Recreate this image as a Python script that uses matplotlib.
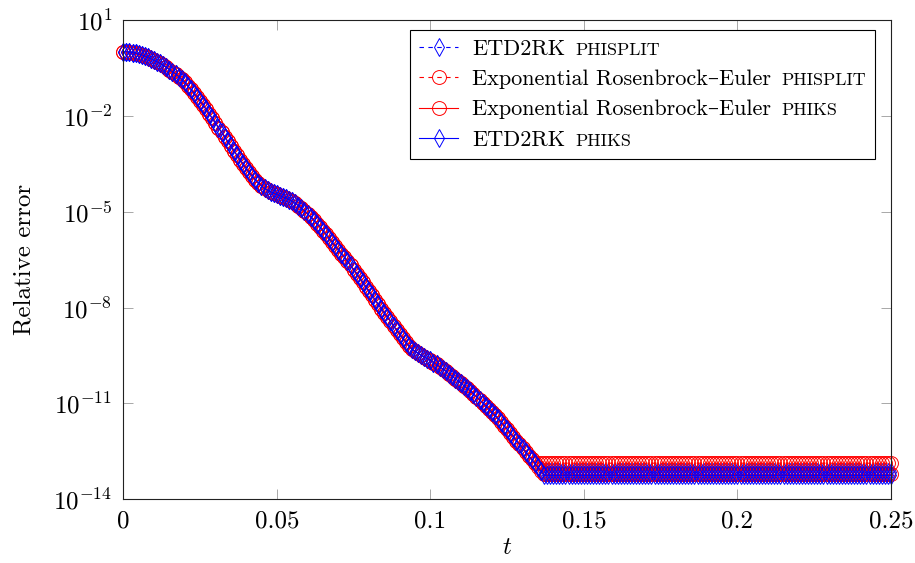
import numpy as np
import matplotlib
matplotlib.use("Agg")
import matplotlib.pyplot as plt
from matplotlib.offsetbox import TextArea, HPacker
from matplotlib.ticker import NullLocator

plt.rcParams['font.family'] = ['cmr10', 'DejaVu Serif']
plt.rcParams['mathtext.fontset'] = 'cm'
plt.rcParams['axes.formatter.use_mathtext'] = True

# ---------------- data (log10 of relative error) ----------------
t = np.round(np.arange(0, 251) * 0.001, 3)

decay_log10 = [
    0.01, 0.005, -0.005, -0.02, -0.04, -0.065, -0.095, -0.13, -0.17, -0.215,
    -0.26, -0.31, -0.36, -0.42, -0.48, -0.55, -0.62, -0.69, -0.77, -0.86,
    -0.95, -1.06, -1.17, -1.29, -1.41, -1.53, -1.66, -1.80, -1.94, -2.08,
    -2.22, -2.37, -2.51, -2.65, -2.80, -2.94, -3.09, -3.23, -3.37, -3.51,
    -3.64, -3.77, -3.89, -4.00, -4.10, -4.19, -4.27, -4.33, -4.38, -4.42,
    -4.46, -4.50, -4.54, -4.57, -4.62, -4.68, -4.74, -4.81, -4.89, -4.97,
    -5.07, -5.16, -5.26, -5.37, -5.48, -5.59, -5.71, -5.83, -5.95, -6.07,
    -6.19, -6.31, -6.43, -6.55, -6.68, -6.81, -6.94, -7.08, -7.21, -7.35,
    -7.49, -7.62, -7.76, -7.90, -8.03, -8.17, -8.30, -8.43, -8.57, -8.70,
    -8.83, -8.96, -9.08, -9.20, -9.30, -9.37, -9.43, -9.49, -9.54, -9.60,
    -9.65, -9.72, -9.78, -9.85, -9.92, -9.99, -10.07, -10.14, -10.22, -10.29,
    -10.37, -10.45, -10.53, -10.61, -10.70, -10.79, -10.88, -10.98, -11.07, -11.17,
    -11.27, -11.37, -11.47, -11.58, -11.70, -11.81, -11.93, -12.04, -12.16, -12.27,
    -12.39, -12.51, -12.63, -12.75,
]

etd2rk_phisplit_tail = [-12.87, -13.00, -13.12] + [-13.15] * 114
er_phisplit_tail = [-12.87] * 117
er_phiks_tail = [-12.87, -13.00, -13.12] + [-13.22] * 114
etd2rk_phiks_tail = [-12.87, -13.00, -13.12] + [-13.25] * 114

etd2rk_phisplit = 10.0 ** np.array(decay_log10 + etd2rk_phisplit_tail)
er_phisplit = 10.0 ** np.array(decay_log10 + er_phisplit_tail)
er_phiks = 10.0 ** np.array(decay_log10 + er_phiks_tail)
etd2rk_phiks = 10.0 ** np.array(decay_log10 + etd2rk_phiks_tail)

main_labels = ["ETD2RK", "Exponential Rosenbrock\u2013Euler",
               "Exponential Rosenbrock\u2013Euler", "ETD2RK"]
sc_labels = ["PHISPLIT", "PHISPLIT", "PHIKS", "PHIKS"]

x_ticks = [0, 0.05, 0.1, 0.15, 0.2, 0.25]
x_tick_labels = ["0", "0.05", "0.1", "0.15", "0.2", "0.25"]
y_tick_exps = [1, -2, -5, -8, -11, -14]

# ---------------- figure ----------------
W, H = 915, 563
fig = plt.figure(figsize=(W / 100, H / 100), dpi=100)
L, R, T, B = 123.3, 891.0, 20.0, 499.3
ax = fig.add_axes([L / W, 1 - B / H, (R - L) / W, (B - T) / H])

blue = '#0000ff'
red = '#ff0000'
dash = (0, (4, 4))

series = [
    (etd2rk_phisplit, blue, dash, 'd', 9),
    (er_phisplit, red, dash, 'o', 10),
    (er_phiks, red, '-', 'o', 10),
    (etd2rk_phiks, blue, '-', 'd', 9),
]
for (y, c, ls, m, ms), lab in zip(series, main_labels):
    ax.plot(t, y, color=c, linestyle=ls, linewidth=0.8, marker=m,
            markersize=ms, markerfacecolor='none', markeredgecolor=c,
            markeredgewidth=0.7, clip_on=False, label=lab)

ax.set_yscale('log')
ax.set_xlim(0, 0.25)
ax.set_ylim(1e-14, 1e1)

ax.set_xticks(x_ticks, x_tick_labels)
ax.set_yticks([10.0 ** e for e in y_tick_exps],
              [r"$10^{%d}$" % e for e in y_tick_exps])
ax.yaxis.set_minor_locator(NullLocator())
ax.xaxis.set_minor_locator(NullLocator())

for s in ax.spines.values():
    s.set_color('#222222')
    s.set_linewidth(0.8)

ax.tick_params(which='major', direction='in', length=7, width=0.7,
               color='#a8a8a8', top=True, right=True, labelsize=18, pad=8,
               labelcolor='black')

ax.set_xlabel(r"$t$", fontsize=18, labelpad=3)
ax.set_ylabel("Relative error", fontsize=18, labelpad=13)

leg = ax.legend(loc='upper right', bbox_to_anchor=(1 - 16 / (R - L), 1 - 10 / (B - T)),
                borderaxespad=0, fontsize=16, frameon=True, fancybox=False,
                edgecolor='black', framealpha=1, handlelength=1.76,
                handletextpad=0.62, borderpad=0.42, labelspacing=0.48,
                numpoints=1)
leg.get_frame().set_linewidth(0.8)

# insert small-caps parts after each label
vp = leg._legend_handle_box.get_children()[0]
for row, sc in zip(vp.get_children(), sc_labels):
    kids = row.get_children()
    tb = kids[1]
    sc_area = TextArea(sc, textprops=dict(fontsize=13.0, family=['cmr10', 'DejaVu Serif'],
                                          verticalalignment='baseline'))
    newbox = HPacker(children=[tb, sc_area], pad=0, sep=7.0, align='baseline')
    kids[1] = newbox
    newbox.set_figure(fig)

fig.savefig("out.png", dpi=100)
